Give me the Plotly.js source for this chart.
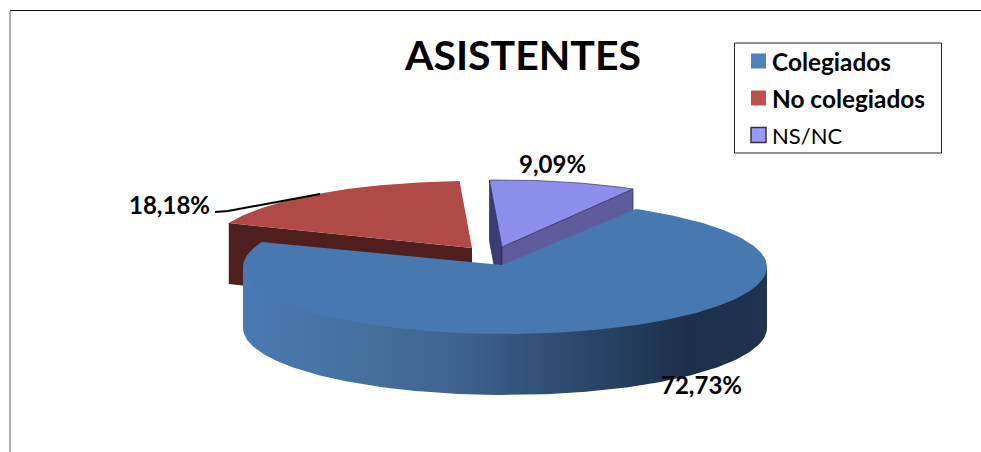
<!DOCTYPE html>
<html>
<head>
<meta charset="utf-8">
<script src="https://cdn.plot.ly/plotly-3.0.1.min.js"></script>
<style>html,body{margin:0;padding:0;background:#fff;overflow:hidden}#c{width:981px;height:452px}</style>
</head>
<body>
<div id="c"></div>
<script>
const categories = ['Colegiados', 'No colegiados', 'NS/NC'];
const percentages = [72.73, 18.18, 9.09];
const valueLabels = ['72,73%', '18,18%', '9,09%'];
const legendColors = ['#4f81bd', '#c0504d', '#9999ff'];
const topColors = ['#4878b0', '#b04a46', '#8e8eec'];
const startAngle = 30;
const rx = 262, ry = 67, depth = 61;
const centers = [[505, 267], [472, 248], [502, 247]];

const rad = a => a * Math.PI / 180;
const pt = (c, a, dz) => [c[0] + rx * Math.sin(rad(a)), c[1] - ry * Math.cos(rad(a)) + (dz || 0)];
const total = percentages.reduce((s, v) => s + v, 0);
let cursor = startAngle;
const sweeps = percentages.map(v => {
  const s = {a0: cursor, a1: cursor + v / total * 360};
  cursor = s.a1;
  return s;
});
function arc(c, a0, a1, dz) {
  const out = [];
  const n = Math.max(2, Math.ceil(Math.abs(a1 - a0)));
  for (let i = 0; i <= n; i++) out.push(pt(c, a0 + (a1 - a0) * i / n, dz));
  return out;
}
function poly(points, color, extra) {
  return Object.assign({
    type: 'scatter', mode: 'lines', x: points.map(p => p[0]), y: points.map(p => p[1]),
    fill: 'toself', fillcolor: color, line: {width: 0, color: color},
    showlegend: false, hoverinfo: 'skip'
  }, extra || {});
}
function wall(a, b, color, extra) {
  return poly([a, b, [b[0], b[1] + depth], [a[0], a[1] + depth], a], color, extra);
}

// No colegiados
const redApex = centers[1];
const red = [
  wall(pt(redApex, sweeps[1].a0), redApex, '#4f1f1d'),
  poly([redApex].concat(arc(redApex, sweeps[1].a0, sweeps[1].a1)).concat([redApex]), topColors[1])
];
// NS/NC
const purApex = centers[2];
const purple = [
  wall(pt(purApex, sweeps[2].a0), purApex, '#3a3d75', {line: {width: 0.7, color: '#23264f'}}),
  wall(purApex, pt(purApex, sweeps[2].a1), '#5f5c9b', {line: {width: 0.7, color: '#23264f'}}),
  poly([purApex].concat(arc(purApex, sweeps[2].a0, sweeps[2].a1)).concat([purApex]), topColors[2],
       {line: {width: 0.7, color: '#34346a'}})
];
// Colegiados: the wall starts a little above the rim so no seam shows under the top face
const c0 = centers[0];
const front = arc(c0, 90, 270, -3);
const back = arc(c0, 270, 90, depth);
const blueWall = poly(front.concat(back).concat([front[0]]), '#2f4c72', {
  fillgradient: {type: 'horizontal', colorscale: [
    [0, '#4a7ab4'], [0.22, '#45719f'], [0.4, '#3f6392'], [0.6, '#2f4c72'], [0.85, '#1c2f4a'], [1, '#1f3350']
  ]}
});
const blueApex = [c0[0] - 3, c0[1] - 2];
const blueTop = poly([blueApex].concat(arc(c0, sweeps[0].a0, sweeps[0].a1)).concat([blueApex]), topColors[0]);

const data = red.concat(purple, [blueWall, blueTop]);

const fam = 'Lato, Carlito, sans-serif';
const labelFont = {family: fam, size: 24, color: '#000'};
const labelPos = [[701, 384], [169, 204], [552, 163]];
const legendRows = [61, 98, 135];
const layout = {
  width: 981, height: 452, margin: {l: 0, r: 0, t: 0, b: 0, pad: 0},
  paper_bgcolor: '#fff', plot_bgcolor: '#fff', hovermode: false, showlegend: false,
  xaxis: {range: [0, 981], visible: false, fixedrange: true},
  yaxis: {range: [452, 0], visible: false, fixedrange: true},
  annotations: [{
    x: 522, y: 54, text: '<b>ASISTENTES</b>', showarrow: false,
    font: {family: fam, size: 41, color: '#000'}
  }].concat(valueLabels.map((t, i) => ({
    x: labelPos[i][0], y: labelPos[i][1], text: '<b>' + t + '</b>', showarrow: false, font: labelFont
  })), categories.map((name, i) => ({
    x: 770, y: legendRows[i], xanchor: 'left', showarrow: false,
    text: i < 2 ? '<b>' + name + '</b>' : name,
    font: {family: fam, size: i < 2 ? 24.4 : 22, color: '#000'}
  }))),
  shapes: [
    {type: 'line', xref: 'x', yref: 'y', x0: 10, x1: 981, y0: 10.5, y1: 10.5, line: {color: '#111', width: 1}},
    {type: 'line', xref: 'x', yref: 'y', x0: 10, x1: 10, y0: 11, y1: 452, line: {color: '#777', width: 1.2}},
    {type: 'path', xref: 'x', yref: 'y', path: 'M215 212 L228 211 L320 194', line: {color: '#000', width: 2}},
    {type: 'rect', xref: 'x', yref: 'y', x0: 734.5, x1: 941.5, y0: 43, y1: 153, fillcolor: '#fff', line: {color: '#222', width: 1}}
  ].concat(legendColors.map((color, i) => ({
    type: 'rect', xref: 'x', yref: 'y', x0: 751, x1: 766, y0: legendRows[i] - 7.5, y1: legendRows[i] + 7.5,
    fillcolor: color, line: {width: i === 2 ? 1.5 : 0, color: '#333'}
  })))
};
Plotly.newPlot('c', data, layout, {displayModeBar: false, staticPlot: true});
</script>
</body>
</html>
